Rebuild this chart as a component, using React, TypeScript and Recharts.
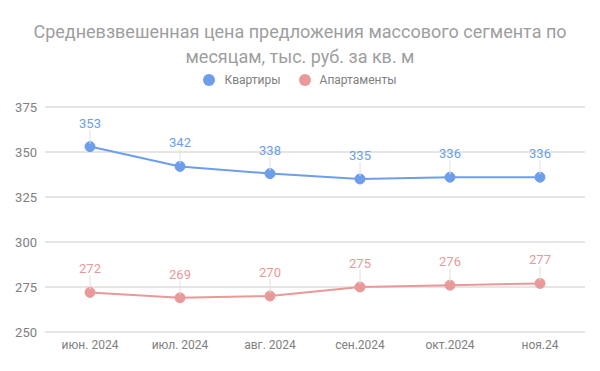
import React from "react";
import { LineChart, Line, XAxis, YAxis, CartesianGrid } from "recharts";

if (typeof document !== "undefined") {
  document.body.style.margin = "0";
}

const months = ["июн. 2024", "июл. 2024", "авг. 2024", "сен.2024", "окт.2024", "ноя.24"];
const flats = [353, 342, 338, 335, 336, 336];
const apartments = [272, 269, 270, 275, 276, 277];
const yTicks = [250, 275, 300, 325, 350, 375];

const BLUE = "#6d9eeb";
const RED = "#ea9999";
const FONT = "Roboto, 'Noto Sans', sans-serif";
const GRAY = "#808080";

const data = months.map((m, i) => ({
  month: m,
  flats: flats[i],
  apartments: apartments[i],
}));

function makeLabel(color: string) {
  return (props: any) => {
    const { x, y, value } = props;
    return (
      <g>
        <line x1={x} y1={y - 3} x2={x} y2={y - 17} stroke="#e0e0e0" strokeWidth={1} />
        <text
          x={x}
          y={y - 19}
          textAnchor="middle"
          fill={color}
          fontSize={13}
          fontFamily={FONT}
        >
          {value}
        </text>
      </g>
    );
  };
}

function LegendBox() {
  const items = [
    { name: "Квартиры", color: BLUE },
    { name: "Апартаменты", color: RED },
  ];
  return (
    <div
      style={{
        position: "absolute",
        top: 73,
        left: 0,
        width: 600,
        display: "flex",
        justifyContent: "center",
        gap: 18,
        fontFamily: FONT,
        fontSize: 12,
        color: GRAY,
      }}
    >
      {items.map((it) => (
        <div key={it.name} style={{ display: "flex", alignItems: "center" }}>
          <span
            style={{
              width: 12,
              height: 12,
              borderRadius: 6,
              background: it.color,
              display: "inline-block",
              marginRight: 9,
            }}
          />
          {it.name}
        </div>
      ))}
    </div>
  );
}

export default function App() {
  return (
    <div style={{ position: "relative", width: 600, height: 371, background: "#fff" }}>
      <div
        style={{
          position: "absolute",
          top: 19,
          left: 0,
          width: 600,
          textAlign: "center",
          fontFamily: FONT,
          fontSize: 18,
          lineHeight: "25px",
          color: "#9e9e9e",
        }}
      >
        Средневзвешенная цена предложения массового сегмента по
        <br />
        месяцам, тыс. руб. за кв. м
      </div>
      <LegendBox />
      <LineChart
        width={600}
        height={371}
        data={data}
        margin={{ top: 107, right: 15, bottom: 9, left: 0 }}
      >
        <CartesianGrid vertical={false} stroke="#cccccc" />
        <XAxis
          dataKey="month"
          axisLine={false}
          tickLine={false}
          padding={{ left: 45, right: 45 }}
          height={30}
          tick={{ fontSize: 12, fill: GRAY, fontFamily: FONT }}
        />
        <YAxis
          domain={[250, 375]}
          ticks={yTicks}
          axisLine={false}
          tickLine={false}
          width={45}
          tick={{ fontSize: 13, fill: GRAY, fontFamily: FONT }}
        />
        <Line
          dataKey="flats"
          name="Квартиры"
          stroke={BLUE}
          strokeWidth={2}
          dot={{ r: 5, fill: BLUE, stroke: BLUE, strokeWidth: 1 }}
          label={makeLabel(BLUE)}
          isAnimationActive={false}
        />
        <Line
          dataKey="apartments"
          name="Апартаменты"
          stroke={RED}
          strokeWidth={2}
          dot={{ r: 5, fill: RED, stroke: RED, strokeWidth: 1 }}
          label={makeLabel(RED)}
          isAnimationActive={false}
        />
      </LineChart>
    </div>
  );
}
